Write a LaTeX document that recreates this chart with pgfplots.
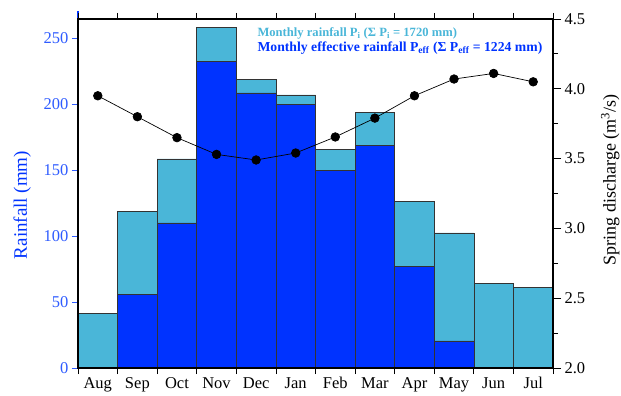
\documentclass[border=0pt]{standalone}
\usepackage{fontspec}
\setmainfont{Liberation Serif}
\usepackage{pgfplots}
\pgfplotsset{compat=1.18}
\definecolor{light}{HTML}{4AB6D8}
\definecolor{dark}{HTML}{0033FF}
\definecolor{tickblue}{HTML}{2E5BFF}
\begin{document}
\begin{tikzpicture}
\useasboundingbox (-78pt,-28pt) rectangle (543pt,368pt);
\begin{axis}[at={(0,0)}, anchor=south west, scale only axis, width=475pt, height=349pt,
  xmin=-0.5, xmax=11.5, ymin=0, ymax=264.6,
  axis on top,
  axis line style={black, line width=1.1pt},
  ybar, bar width=1, bar shift=0pt,
  xtick={0,...,11},
  xticklabels={Aug,Sep,Oct,Nov,Dec,Jan,Feb,Mar,Apr,May,Jun,Jul},
  major x tick style={draw=none},
  minor xtick={-0.5,0.5,...,11.5},
  minor x tick style={black, line width=0.8pt},
  minor tick length=6pt,
  tick align=outside,
  xtick pos=both, xticklabel pos=lower,
  ytick pos=left,
  ytick={0,50,...,250},
  major y tick style={tickblue, line width=0.8pt},
  major tick length=6pt,
  yticklabel style={text=tickblue},
  tick label style={font=\fontsize{16.5}{17}\selectfont},
  /pgf/number format/assume math mode=true,
  ylabel={Rainfall (mm)},
  ylabel style={text=dark, font=\fontsize{19}{19}\selectfont, at={(ticklabel cs:0.467)}, yshift=6pt},
  clip=false,
]
\addplot[fill=light, draw=black!80, line width=0.6pt] coordinates {
 (0,41.5) (1,119) (2,158.5) (3,258.5) (4,219) (5,207) (6,166) (7,194) (8,126.5) (9,102.5) (10,64) (11,61.3)};
\addplot[fill=dark, draw=black!80, line width=0.6pt] coordinates {
 (1,56) (2,110) (3,232.5) (4,208.5) (5,200) (6,150) (7,169) (8,77) (9,20.5)};
\draw[dark, line width=1.6pt] (rel axis cs:0,0) -- (rel axis cs:0,1.023);
\node[anchor=west, text=light, font=\fontsize{12.6}{12.6}\selectfont\bfseries] at (rel axis cs:0.3705,0.960)
  {Monthly rainfall P\textsubscript{i} (Σ P\textsubscript{i} = 1720 mm)};
\node[anchor=west, text=dark, font=\fontsize{13.7}{13.7}\selectfont\bfseries] at (rel axis cs:0.3705,0.917)
  {Monthly effective rainfall P\textsubscript{eff} (Σ P\textsubscript{eff} = 1224 mm)};
\end{axis}
\begin{axis}[at={(0,0)}, anchor=south west, scale only axis, width=475pt, height=349pt,
  xmin=-0.5, xmax=11.5, ymin=2, ymax=4.5,
  axis x line=none, axis y line*=right,
  axis line style={black, line width=1.1pt, -},
  ytick={2,2.5,...,4.5},
  minor ytick={2.25,2.75,...,4.25},
  yticklabel style={/pgf/number format/.cd, fixed, fixed zerofill, precision=1},
  /pgf/number format/assume math mode=true,
  tick label style={font=\fontsize{16.5}{17}\selectfont},
  major tick length=8pt, minor tick length=5pt,
  major y tick style={black, line width=0.8pt},
  minor y tick style={black, line width=0.8pt},
  tick align=outside,
  ylabel={Spring discharge (m\textsuperscript{3}/s)},
  ylabel style={font=\fontsize{18}{18}\selectfont, at={(ticklabel cs:0.539)}, yshift=-9pt},
  clip=false,
]
\addplot[black, line width=0.7pt, mark=*, mark size=4.3pt] coordinates {
 (0,3.95) (1,3.80) (2,3.65) (3,3.53) (4,3.49) (5,3.54) (6,3.655) (7,3.79) (8,3.95) (9,4.07) (10,4.11) (11,4.05)};
\end{axis}
\end{tikzpicture}
\end{document}
